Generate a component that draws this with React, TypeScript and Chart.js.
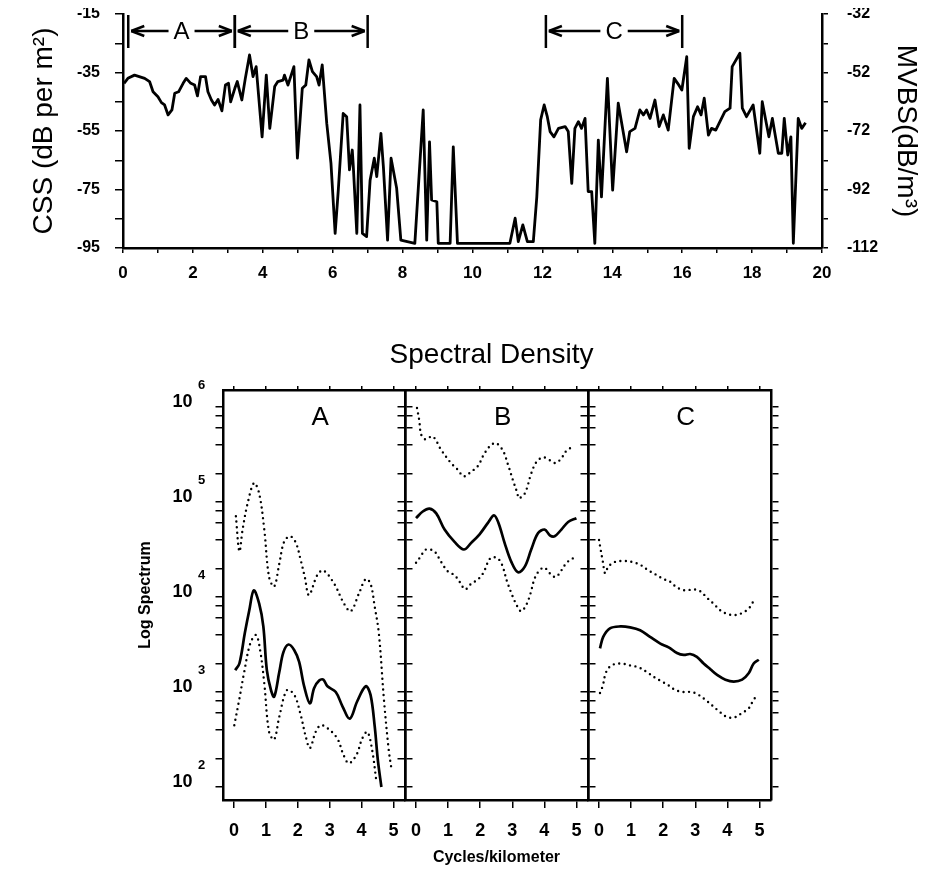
import React, { useEffect, useRef } from "react";
import { Chart, registerables } from "chart.js";

Chart.register(...registerables);

const FONT = "'Liberation Sans', Arial, Helvetica, sans-serif";

// ---------------- Top chart data (distance along track, km / CSS dB) ----------------
const trackKm = [
  0.03, 0.14, 0.33, 0.62, 0.76, 0.86, 1.0, 1.1, 1.19, 1.29, 1.4, 1.48, 1.59, 1.72, 1.81, 1.94,
  2.05, 2.13, 2.22, 2.36, 2.43, 2.53, 2.62, 2.72, 2.83, 2.93, 3.02, 3.08, 3.2, 3.27, 3.4, 3.5,
  3.62, 3.72, 3.81, 3.98, 4.1, 4.2, 4.34, 4.43, 4.58, 4.62, 4.72, 4.89, 4.99, 5.13, 5.23, 5.32,
  5.42, 5.54, 5.61, 5.7, 5.83, 5.95, 6.07, 6.16, 6.3, 6.4, 6.48, 6.52, 6.56, 6.59, 6.69, 6.78,
  6.85, 6.97, 7.07, 7.19, 7.26, 7.38, 7.45, 7.57, 7.67, 7.83, 7.95, 8.35, 8.59, 8.69, 8.77, 8.83,
  8.98, 9.02, 9.36, 9.45, 9.57, 11.07, 11.22, 11.31, 11.44, 11.57, 11.74, 11.84, 11.95, 12.05,
  12.14, 12.22, 12.33, 12.46, 12.65, 12.74, 12.84, 12.93, 13.03, 13.12, 13.22, 13.31, 13.41,
  13.5, 13.6, 13.69, 13.86, 14.01, 14.17, 14.41, 14.5, 14.65, 14.79, 14.89, 14.98, 15.08, 15.22,
  15.34, 15.46, 15.6, 15.77, 15.87, 15.99, 16.13, 16.2, 16.32, 16.44, 16.54, 16.63, 16.75, 16.84,
  16.96, 17.22, 17.37, 17.43, 17.65, 17.72, 17.84, 18.03, 18.22, 18.29, 18.48, 18.58, 18.75,
  18.85, 18.92, 19.02, 19.11, 19.18, 19.32, 19.42, 19.53,
];
const cssDb = [
  -38.7, -37.0, -35.9, -37.0, -38.1, -41.6, -43.3, -45.3, -46.1, -49.5, -47.8, -42.1, -41.6, -38.7, -37.0, -38.7,
  -39.3, -43.0, -36.4, -36.4, -41.6, -44.4, -46.1, -44.2, -48.1, -39.3, -38.7, -45.0, -40.4, -38.1, -44.4, -37.0,
  -29.0, -36.4, -33.0, -57.0, -35.9, -54.1, -39.8, -38.1, -37.6, -35.9, -39.3, -33.0, -64.3, -40.4, -39.3, -30.7,
  -34.7, -36.4, -39.3, -32.4, -52.4, -66.0, -90.0, -75.2, -49.0, -50.1, -68.3, -64.9, -61.5, -67.2, -90.0, -46.1,
  -90.0, -91.1, -71.8, -64.3, -70.6, -55.8, -67.2, -92.3, -64.3, -74.6, -92.3, -93.4, -47.8, -92.3, -58.7, -78.6,
  -79.2, -93.4, -93.4, -60.4, -93.4, -93.4, -84.8, -92.8, -87.1, -92.8, -92.8, -77.5, -51.2, -46.1,
  -50.1, -55.2, -57.0, -54.1, -53.5, -55.2, -72.9, -54.1, -51.8, -54.1, -50.7, -75.7, -75.7,
  -93.4, -58.1, -77.5, -37.0, -75.2, -45.5, -62.1, -55.2, -54.1, -47.8, -49.5, -47.8, -50.7, -44.4,
  -53.5, -49.5, -54.7, -37.0, -38.7, -41.0, -29.6, -60.9, -50.1, -46.7, -49.5, -43.8, -56.4, -54.1,
  -54.7, -48.4, -47.2, -33.0, -28.4, -47.2, -50.1, -46.1, -62.6, -45.0, -57.0, -50.7, -62.6,
  -62.6, -50.7, -63.2, -57.0, -93.4, -50.7, -54.1, -52.2,
];
const kmTicks = [0, 1, 2, 3, 4, 5, 6, 7, 8, 9, 10, 11, 12, 13, 14, 15, 16, 17, 18, 19, 20];
const kmLabels = [0, 2, 4, 6, 8, 10, 12, 14, 16, 18, 20];
const cssTicks = [-95, -85, -75, -65, -55, -45, -35, -25, -15];
const cssLabels = [-95, -75, -55, -35, -15];
const mvbsTicks = [-112, -102, -92, -82, -72, -62, -52, -42, -32];
const mvbsLabels = [-112, -92, -72, -52, -32];
const segStarts = [0.15, 3.2, 12.1];
const segEnds = [3.2, 7.0, 16.0];
const segLabels = ["A", "B", "C"];

// ---------------- Spectral density data (cycles/km, log10 of spectrum) ----------------
const cycTicks = [0, 1, 2, 3, 4, 5];
const logTickValues = [
  1e2, 2e2, 4e2, 6e2, 8e2, 1e3, 2e3, 4e3, 6e3, 8e3, 1e4, 2e4, 4e4, 6e4, 8e4, 1e5, 2e5, 4e5, 6e5, 8e5, 1e6,
];
const decadeValues = [1e2, 1e3, 1e4, 1e5, 1e6];
const decadeExponents = ["2", "3", "4", "5", "6"];

const aUpperCyc = [0.06, 0.17, 0.27, 0.43, 0.63, 0.79, 0.95, 1.1, 1.26, 1.42, 1.57, 1.76, 1.94, 2.09, 2.22, 2.35, 2.61, 2.8, 3.14, 3.45, 3.66, 3.92, 4.13, 4.28, 4.41, 4.54, 4.7, 4.85, 4.94];
const aUpperLog = [4.85, 4.48, 4.71, 4.99, 5.2, 5.09, 4.71, 4.21, 4.11, 4.35, 4.58, 4.64, 4.57, 4.39, 4.21, 4.02, 4.23, 4.28, 4.14, 3.93, 3.85, 4.04, 4.19, 4.14, 3.9, 3.62, 2.92, 2.39, 2.18];
const aSolidCyc = [0.04, 0.17, 0.34, 0.48, 0.62, 0.79, 0.92, 1.03, 1.16, 1.26, 1.42, 1.55, 1.71, 1.89, 2.04, 2.2, 2.38, 2.51, 2.67, 2.8, 2.93, 3.19, 3.4, 3.63, 3.86, 4.13, 4.28, 4.41, 4.51, 4.62];
const aSolidLog = [3.23, 3.3, 3.62, 3.86, 4.07, 3.93, 3.69, 3.23, 3.02, 2.95, 3.21, 3.42, 3.5, 3.44, 3.32, 3.06, 2.88, 3.04, 3.12, 3.13, 3.06, 3.0, 2.85, 2.72, 2.9, 3.06, 2.97, 2.64, 2.28, 2.0];
const aLowerCyc = [0.01, 0.17, 0.32, 0.51, 0.69, 0.82, 0.95, 1.1, 1.26, 1.42, 1.66, 1.89, 2.09, 2.25, 2.38, 2.56, 2.72, 2.93, 3.24, 3.43, 3.6, 3.84, 4.02, 4.18, 4.33, 4.47];
const aLowerLog = [2.65, 2.93, 3.21, 3.51, 3.6, 3.44, 3.09, 2.58, 2.5, 2.74, 3.02, 2.97, 2.76, 2.53, 2.41, 2.58, 2.65, 2.62, 2.51, 2.34, 2.25, 2.34, 2.51, 2.58, 2.39, 2.04];

const bUpperCyc = [0.03, 0.1, 0.16, 0.29, 0.52, 0.78, 1.09, 1.3, 1.49, 1.72, 1.93, 2.13, 2.34, 2.5, 2.71, 2.87, 3.02, 3.16, 3.2, 3.39, 3.59, 3.75, 3.96, 4.17, 4.35, 4.53, 4.69, 4.93];
const bUpperLog = [5.99, 5.86, 5.71, 5.66, 5.69, 5.55, 5.41, 5.34, 5.27, 5.32, 5.38, 5.51, 5.6, 5.62, 5.54, 5.39, 5.23, 5.09, 5.04, 5.09, 5.3, 5.42, 5.47, 5.44, 5.41, 5.46, 5.54, 5.59];
const bSolidCyc = [0.0, 0.21, 0.42, 0.63, 0.89, 1.2, 1.49, 1.72, 1.98, 2.24, 2.43, 2.57, 2.76, 2.97, 3.18, 3.39, 3.59, 3.8, 4.01, 4.17, 4.32, 4.53, 4.74, 5.0];
const bSolidLog = [4.83, 4.9, 4.93, 4.88, 4.71, 4.58, 4.5, 4.57, 4.66, 4.78, 4.86, 4.78, 4.57, 4.37, 4.26, 4.32, 4.5, 4.67, 4.71, 4.65, 4.64, 4.71, 4.79, 4.83];
const bLowerCyc = [0.0, 0.13, 0.31, 0.57, 0.78, 0.99, 1.2, 1.38, 1.53, 1.72, 1.91, 2.09, 2.32, 2.53, 2.68, 2.84, 3.02, 3.16, 3.28, 3.44, 3.57, 3.68, 3.8, 3.99, 4.17, 4.35, 4.53, 4.69, 4.9];
const bLowerLog = [4.36, 4.42, 4.5, 4.48, 4.37, 4.27, 4.23, 4.15, 4.08, 4.14, 4.18, 4.25, 4.41, 4.41, 4.34, 4.16, 4.0, 3.9, 3.85, 3.92, 4.04, 4.18, 4.26, 4.31, 4.25, 4.21, 4.28, 4.36, 4.41];

const cUpperCyc = [0.0, 0.05, 0.12, 0.19, 0.29, 0.5, 0.76, 1.02, 1.28, 1.54, 1.75, 2.01, 2.22, 2.43, 2.69, 2.95, 3.16, 3.37, 3.57, 3.78, 4.01, 4.25, 4.51, 4.72, 4.84];
const cUpperLog = [4.6, 4.5, 4.37, 4.25, 4.32, 4.37, 4.38, 4.37, 4.34, 4.28, 4.24, 4.19, 4.16, 4.1, 4.07, 4.08, 4.06, 3.99, 3.93, 3.86, 3.82, 3.81, 3.84, 3.9, 3.98];
const cSolidCyc = [0.03, 0.13, 0.34, 0.66, 0.97, 1.28, 1.59, 1.91, 2.17, 2.43, 2.64, 2.84, 3.05, 3.26, 3.47, 3.68, 3.94, 4.2, 4.46, 4.67, 4.82, 4.98];
const cSolidLog = [3.46, 3.58, 3.67, 3.69, 3.68, 3.65, 3.58, 3.51, 3.47, 3.41, 3.39, 3.4, 3.37, 3.3, 3.24, 3.18, 3.13, 3.11, 3.13, 3.2, 3.3, 3.34];
const cLowerCyc = [0.03, 0.12, 0.19, 0.29, 0.45, 0.71, 0.97, 1.23, 1.49, 1.75, 1.96, 2.17, 2.38, 2.64, 2.9, 3.1, 3.31, 3.52, 3.73, 3.97, 4.2, 4.46, 4.67, 4.82, 4.95];
const cLowerLog = [2.99, 3.07, 3.18, 3.25, 3.29, 3.3, 3.28, 3.26, 3.21, 3.15, 3.11, 3.07, 3.02, 3.0, 3.0, 2.97, 2.92, 2.86, 2.8, 2.74, 2.73, 2.78, 2.83, 2.92, 2.97];

// ---------------- helpers ----------------
const BLACK = "#000";
const borderStyle = { display: true, color: BLACK, width: 2.5 };
const tickGrid = (len: number) => ({
  display: true,
  drawOnChartArea: false,
  drawTicks: true,
  tickLength: len,
  color: BLACK,
  lineWidth: 1.5,
});
const fixWidth = (w: number) => (s: any) => {
  s.width = w;
  s.paddingTop = 0;
  s.paddingBottom = 0;
};
const fixHeight = (h: number) => (s: any) => {
  s.height = h;
  s.paddingLeft = 0;
  s.paddingRight = 0;
};
const setTicks = (vals: number[]) => (s: any) => {
  s.ticks = vals.map((v) => ({ value: v }));
};

const segmentPlugin = {
  id: "segments",
  afterDatasetsDraw(chart: any) {
    const { ctx, chartArea } = chart;
    const xs = chart.scales.x;
    const yMid = chartArea.top + 17;
    const barTop = chartArea.top + 1;
    const barBot = chartArea.top + 34;
    ctx.save();
    ctx.strokeStyle = BLACK;
    ctx.fillStyle = BLACK;
    ctx.lineWidth = 2.5;
    ctx.lineCap = "butt";
    ctx.font = `24px ${FONT}`;
    ctx.textAlign = "center";
    ctx.textBaseline = "middle";
    const line = (x1: number, y1: number, x2: number, y2: number) => {
      ctx.beginPath();
      ctx.moveTo(x1, y1);
      ctx.lineTo(x2, y2);
      ctx.stroke();
    };
    segStarts.forEach((s, i) => {
      const x0 = xs.getPixelForValue(s);
      const x1 = xs.getPixelForValue(segEnds[i]);
      line(x0, barTop, x0, barBot);
      line(x1, barTop, x1, barBot);
      const xm = (x0 + x1) / 2;
      ctx.fillText(segLabels[i], xm, yMid + 1);
      const half = ctx.measureText(segLabels[i]).width / 2 + 5;
      const lt = x0 + 3;
      const rt = x1 - 3;
      line(lt, yMid, xm - half, yMid);
      line(lt + 13, yMid - 5, lt, yMid);
      line(lt, yMid, lt + 13, yMid + 5);
      line(xm + half, yMid, rt, yMid);
      line(rt - 13, yMid - 5, rt, yMid);
      line(rt, yMid, rt - 13, yMid + 5);
    });
    ctx.restore();
  },
};

function TopChart() {
  const ref = useRef<HTMLCanvasElement>(null);
  useEffect(() => {
    const chart = new Chart(ref.current as HTMLCanvasElement, {
      type: "line",
      data: {
        datasets: [
          {
            data: trackKm.map((x, i) => ({ x, y: cssDb[i] })),
            borderColor: BLACK,
            borderWidth: 2.8,
            pointRadius: 0,
            tension: 0,
            fill: false,
            borderJoinStyle: "round",
            xAxisID: "x",
            yAxisID: "y",
          },
        ],
      },
      options: {
        animation: false,
        responsive: false,
        maintainAspectRatio: false,
        layout: { padding: { top: 14, left: 0, right: 0, bottom: 0 } },
        plugins: { legend: { display: false }, tooltip: { enabled: false } },
        scales: {
          x: {
            type: "linear",
            position: "bottom",
            min: 0,
            max: 20,
            afterBuildTicks: setTicks(kmTicks),
            afterFit: fixHeight(45),
            ticks: {
              autoSkip: false,
              maxRotation: 0,
              padding: 10,
              color: BLACK,
              font: { family: FONT, size: 17, weight: "bold" },
              callback: (v: any) => (kmLabels.includes(v) ? String(v) : ""),
            },
            grid: tickGrid(5),
            border: borderStyle,
          },
          y: {
            type: "linear",
            position: "left",
            min: -95,
            max: -15,
            afterBuildTicks: setTicks(cssTicks),
            afterFit: fixWidth(115),
            ticks: {
              autoSkip: false,
              padding: 15,
              color: BLACK,
              font: { family: FONT, size: 16, weight: "bold" },
              callback: (v: any) => (cssLabels.includes(v) ? String(v) : ""),
            },
            grid: tickGrid(8),
            border: borderStyle,
            title: {
              display: true,
              text: "CSS (dB per m²)",
              color: BLACK,
              font: { family: FONT, size: 28 },
              padding: { top: 19, bottom: 0 },
            },
          },
          y2: {
            type: "linear",
            position: "right",
            min: -112,
            max: -32,
            afterBuildTicks: setTicks(mvbsTicks),
            afterFit: fixWidth(108),
            ticks: {
              autoSkip: false,
              padding: 19,
              color: BLACK,
              font: { family: FONT, size: 16, weight: "bold" },
              callback: (v: any) => (mvbsLabels.includes(v) ? String(v) : ""),
            },
            grid: tickGrid(6),
            border: borderStyle,
            title: {
              display: true,
              text: "MVBS(dB/m³)",
              color: BLACK,
              font: { family: FONT, size: 28 },
              padding: { top: 7, bottom: 0 },
            },
          },
        },
      } as any,
      plugins: [segmentPlugin],
    });
    return () => chart.destroy();
  }, []);
  return (
    <canvas
      ref={ref}
      width={922}
      height={293}
      style={{ position: "absolute", left: 0, top: -8, width: 922, height: 293 }}
    />
  );
}

type PanelSpec = {
  letter: string;
  upC: number[];
  upL: number[];
  soC: number[];
  soL: number[];
  loC: number[];
  loL: number[];
  pageLeft: number;
  width: number;
  leftW: number;
  rightW: number;
  first: boolean;
  middle: boolean;
};

const toPts = (c: number[], l: number[]) => c.map((x, i) => ({ x, y: Math.pow(10, l[i]) }));

function Panel(props: { spec: PanelSpec }) {
  const ref = useRef<HTMLCanvasElement>(null);
  const p = props.spec;
  useEffect(() => {
    const dotted = (c: number[], l: number[]) => ({
      data: toPts(c, l),
      borderColor: BLACK,
      borderWidth: 2.4,
      borderDash: [0, 5.5],
      borderCapStyle: "round",
      pointRadius: 0,
      tension: 0.35,
      fill: false,
      xAxisID: "x",
      yAxisID: "y",
    });
    const solid = {
      data: toPts(p.soC, p.soL),
      borderColor: BLACK,
      borderWidth: 2.7,
      pointRadius: 0,
      tension: 0.35,
      fill: false,
      xAxisID: "x",
      yAxisID: "y",
    };
    const letterPlugin = {
      id: "panelLetter",
      afterDraw(chart: any) {
        const { ctx, chartArea } = chart;
        ctx.save();
        ctx.fillStyle = BLACK;
        ctx.font = `26px ${FONT}`;
        ctx.textAlign = "center";
        ctx.textBaseline = "middle";
        ctx.fillText(p.letter, chart.scales.x.getPixelForValue(2.7), chartArea.top + 28);
        if (p.first) {
          const ys = chart.scales.y;
          const xr = ys.right - 7 - 23;
          ctx.font = `bold 13px ${FONT}`;
          ctx.textAlign = "left";
          decadeValues.forEach((v, i) => {
            const py = ys.getPixelForValue(v) - 5;
            ctx.fillText(decadeExponents[i], xr + 5, py - 16.5);
          });
        }
        ctx.restore();
      },
    };
    const xRange = { min: -0.344, max: 5.36 };
    const yRange = { min: 73, max: 1.51e6 };
    const chart = new Chart(ref.current as HTMLCanvasElement, {
      type: "line",
      data: { datasets: [dotted(p.upC, p.upL), solid, dotted(p.loC, p.loL)] as any },
      options: {
        animation: false,
        responsive: false,
        maintainAspectRatio: false,
        layout: { padding: { top: p.middle ? 0 : 45, left: 0, right: 0, bottom: 0 } },
        plugins: {
          legend: { display: false },
          tooltip: { enabled: false },
          title: {
            display: p.middle,
            text: "Spectral Density",
            color: BLACK,
            font: { family: FONT, size: 28, weight: "normal" },
            padding: { top: 3.2, bottom: 8.2 },
          },
        },
        scales: {
          x: {
            type: "linear",
            position: "bottom",
            ...xRange,
            afterBuildTicks: setTicks(cycTicks),
            afterFit: fixHeight(78),
            ticks: {
              autoSkip: false,
              maxRotation: 0,
              padding: 12.5,
              color: BLACK,
              font: { family: FONT, size: 18, weight: "bold" },
            },
            grid: tickGrid(8),
            border: borderStyle,
            title: {
              display: p.middle,
              text: "Cycles/kilometer",
              color: BLACK,
              font: { family: FONT, size: 16, weight: "bold" },
              padding: { top: 0, bottom: 10.4 },
            },
          },
          xTop: {
            type: "linear",
            position: "top",
            ...xRange,
            afterBuildTicks: setTicks(cycTicks),
            afterFit: fixHeight(10),
            ticks: { display: false },
            grid: tickGrid(4),
            border: borderStyle,
          },
          y: {
            type: "logarithmic",
            position: "left",
            ...yRange,
            afterBuildTicks: setTicks(logTickValues),
            afterFit: fixWidth(p.leftW),
            ticks: {
              display: p.first,
              autoSkip: false,
              padding: 23,
              labelOffset: -5,
              color: BLACK,
              font: { family: FONT, size: 18, weight: "bold" },
              callback: (v: any) => (decadeValues.includes(v) ? "10" : ""),
            },
            grid: tickGrid(7.5),
            border: borderStyle,
            title: {
              display: p.first,
              text: "Log Spectrum",
              color: BLACK,
              font: { family: FONT, size: 16, weight: "bold" },
              padding: { top: 16.4, bottom: 0 },
            },
          },
          yRight: {
            type: "logarithmic",
            position: "right",
            ...yRange,
            afterBuildTicks: setTicks(logTickValues),
            afterFit: fixWidth(p.rightW),
            ticks: { display: false },
            grid: tickGrid(7.5),
            border: borderStyle,
          },
        },
      } as any,
      plugins: [letterPlugin],
    });
    return () => chart.destroy();
  }, []);
  return (
    <canvas
      ref={ref}
      width={p.width}
      height={543}
      style={{ position: "absolute", left: p.pageLeft - 8, top: 327, width: p.width, height: 543 }}
    />
  );
}

const panels: PanelSpec[] = [
  {
    letter: "A", upC: aUpperCyc, upL: aUpperLog, soC: aSolidCyc, soL: aSolidLog, loC: aLowerCyc, loL: aLowerLog,
    pageLeft: 120, width: 300, leftW: 103, rightW: 15, first: true, middle: false,
  },
  {
    letter: "B", upC: bUpperCyc, upL: bUpperLog, soC: bSolidCyc, soL: bSolidLog, loC: bLowerCyc, loL: bLowerLog,
    pageLeft: 365, width: 253, leftW: 40, rightW: 30, first: false, middle: true,
  },
  {
    letter: "C", upC: cUpperCyc, upL: cUpperLog, soC: cSolidCyc, soL: cSolidLog, loC: cLowerCyc, loL: cLowerLog,
    pageLeft: 573, width: 217, leftW: 15, rightW: 19, first: false, middle: false,
  },
];

export default function App() {
  return (
    <div style={{ position: "relative", width: 922, height: 862, overflow: "visible" }}>
      <TopChart />
      {panels.map((s) => (
        <Panel key={s.letter} spec={s} />
      ))}
    </div>
  );
}
